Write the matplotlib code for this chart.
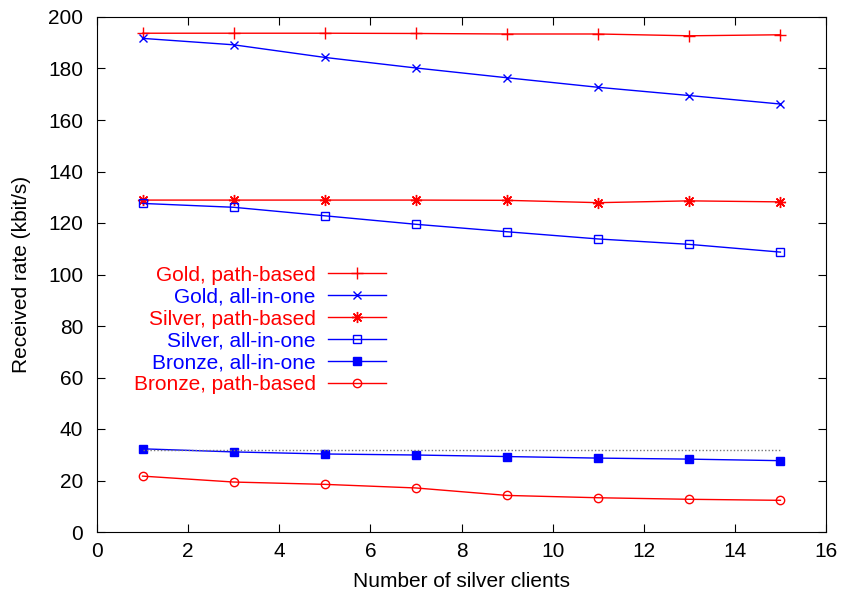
#!/usr/bin/env python3
"""Received rate per class vs number of silver clients."""

import matplotlib
matplotlib.use("Agg")
import matplotlib.pyplot as plt

plt.rcParams['font.family'] = ['Liberation Sans', 'DejaVu Sans']

clients = [1, 3, 5, 7, 9, 11, 13, 15]

gold_path = [193.7, 193.7, 193.7, 193.6, 193.4, 193.4, 192.7, 193.1]
gold_all = [191.7, 189.2, 184.3, 180.2, 176.4, 172.7, 169.5, 166.2]
silver_path = [128.9, 128.9, 128.9, 128.9, 128.8, 127.9, 128.6, 128.2]
silver_all = [127.6, 126.1, 122.8, 119.5, 116.6, 113.8, 111.7, 108.7]
bronze_all = [32.3, 31.1, 30.3, 29.9, 29.3, 28.7, 28.3, 27.7]
bronze_path = [21.7, 19.4, 18.5, 17.1, 14.2, 13.3, 12.7, 12.3]
bronze_target = [32, 32]

fs = 15

fig = plt.figure(figsize=(8.42, 5.99), dpi=100)
ax = fig.add_axes([97 / 842, 1 - 532 / 599, (826 - 97) / 842, (532 - 17) / 599])

ax.plot(clients, gold_path, color='red', lw=1, marker='+', ms=8, mew=1,
        label='Gold, path-based')
ax.plot(clients, gold_all, color='blue', lw=1, marker='x', ms=5.5, mew=1,
        label='Gold, all-in-one')
ax.plot(clients, silver_path, color='red', lw=1, marker=(8, 2, 0), ms=8, mew=1,
        label='Silver, path-based')
ax.plot(clients, silver_all, color='blue', lw=1, marker='s', ms=6, mew=1,
        mfc='none', label='Silver, all-in-one')
ax.plot(clients, bronze_all, color='blue', lw=1, marker='s', ms=6, mew=1,
        label='Bronze, all-in-one')
ax.plot(clients, bronze_path, color='red', lw=1, marker='o', ms=6, mew=1,
        mfc='none', label='Bronze, path-based')
ax.plot([clients[0], clients[-1]], bronze_target, color='#777777', lw=1,
        ls=(0, (1, 1.5)))

ax.set_xlim(0, 16)
ax.set_ylim(0, 200)
ax.set_xticks(range(0, 17, 2))
ax.set_yticks(range(0, 201, 20))
ax.tick_params(direction='in', top=True, right=True, length=6, labelsize=fs)
ax.tick_params(axis='x', pad=7)
ax.tick_params(axis='y', pad=10)
ax.set_xlabel('Number of silver clients', fontsize=fs, labelpad=8)
ax.set_ylabel('Received rate (kbit/s)', fontsize=fs, labelpad=12)

ax.legend(loc='upper right', bbox_to_anchor=(0.397, 0.517), frameon=False,
          markerfirst=False, labelcolor='linecolor', fontsize=fs,
          handlelength=2.8, handletextpad=0.6, labelspacing=0.14,
          borderaxespad=0, borderpad=0)

fig.savefig('out.png', dpi=100)
